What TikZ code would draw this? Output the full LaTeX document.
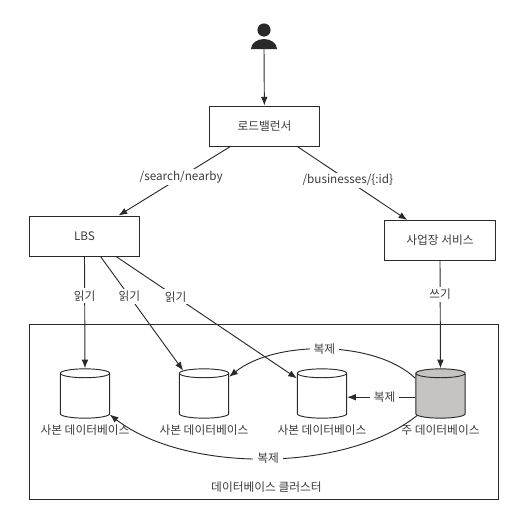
\documentclass[tikz,border=0pt]{standalone}
\usepackage{fontspec}
\setmainfont{Noto Sans CJK KR}
\usetikzlibrary{shapes.geometric,arrows.meta}
\definecolor{ink}{HTML}{2A2A2A}
\definecolor{txt}{HTML}{3C3C3C}
\definecolor{maindb}{HTML}{C6C3C0}
\tikzset{
box/.style={draw=ink,line width=0.7pt,minimum width=83pt,minimum height=30pt,text=txt,font=\fontsize{8.8}{10}\selectfont},
dbase/.style={draw=ink,line width=0.7pt,shape=cylinder,shape border rotate=90,aspect=1,minimum width=37pt,minimum height=37pt,anchor=shape center},
lbl/.style={text=txt,font=\fontsize{8.8}{10}\selectfont,inner sep=1pt},
tag/.style={lbl,fill=white,inner xsep=3pt,inner ysep=1.5pt},
link/.style={draw=ink,line width=0.7pt,-{Latex[length=6.5pt,width=5pt]}}
}
\begin{document}
\begin{tikzpicture}[x=0.75pt,y=-0.75pt]
\useasboundingbox (0,0) rectangle (526,511);

% user
\fill[ink] (264,30) circle (6.6);
\fill[ink] (251,49) arc (180:360:13 and 10) -- cycle;
\coordinate (user) at (264,49);

% services
\node[box] (lb) at (264.5,126) {로드밸런서};
\node[box] (lbs) at (84.5,236) {LBS};
\node[box] (biz) at (440,240.5) {사업장 서비스};

\draw[link] (user) -- (lb);
\draw[link] (lb.211) -- node[tag,pos=0.44] (search) {/search/nearby} (lbs.31);
\draw[link] (lb.328) -- node[tag,pos=0.46] (businesses) {/businesses/\{:id\}} (biz.148);

% database cluster
\node[draw=ink,line width=0.7pt,minimum width=351.5pt,minimum height=131.5pt] (cluster) at (264.2,411.7) {};
\node[lbl] (clusterlabel) at (266.5,487) {데이터베이스 클러스터};

\node[dbase] (db1) at (85,393.5) {};
\node[dbase] (db2) at (204,393.5) {};
\node[dbase] (db3) at (322,393.5) {};
\node[dbase,fill=maindb] (db4) at (440.5,393.5) {};

\node[lbl] (db1label) at (85,430) {사본 데이터베이스};
\node[lbl] (db2label) at (204,430) {사본 데이터베이스};
\node[lbl] (db3label) at (322,430) {사본 데이터베이스};
\node[lbl] (db4label) at (440.5,430) {주 데이터베이스};

% reads and write
\draw[link] (lbs.south) -- node[tag,pos=0.35] (read1) {읽기} (db1.north);
\draw[link] (lbs.-52) -- node[tag,pos=0.35] (read2) {읽기} (db2.128);
\draw[link] (lbs.-33) -- node[tag,pos=0.33] (read3) {읽기} (db3.143);
\draw[link] (biz.south) -- node[tag,pos=0.31] (write) {쓰기} (db4.north);

% replication
\draw[link] (db4.143) .. controls (375,340) and (275,340) .. node[tag,pos=0.5] (copy2) {복제} (db2.39);
\draw[link] (db4.west) -- node[tag,pos=0.45] (copy3) {복제} (db3.east);
\draw[link] (db4.218) .. controls (345,473) and (185,473) .. node[tag,pos=0.49] (copy1) {복제} (db1.-35);

\end{tikzpicture}
\end{document}
